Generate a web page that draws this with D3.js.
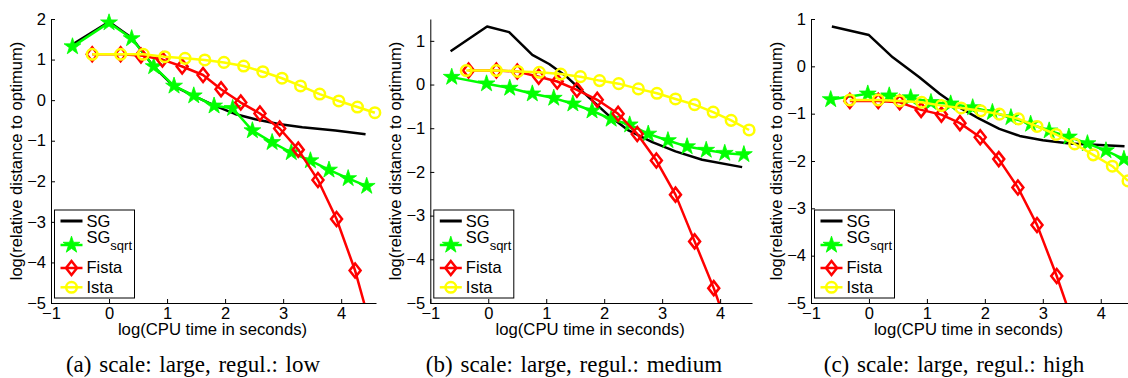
<!DOCTYPE html>
<html>
<head>
<meta charset="utf-8">
<script src="https://cdn.jsdelivr.net/npm/d3@7"></script>
<style>
body { margin: 0; background: #fff; }
text { font-family: "Liberation Sans", Arial, Helvetica, sans-serif; }
</style>
</head>
<body>
<div id="chart-area"></div>
<script>
// values: [log CPU time, log relative distance]
const sgA = [[-0.62,1.38],[0,1.93],[0.39,1.54],[0.76,0.84],[1.11,0.35],[1.45,0.11],[1.83,-0.14],[2.17,-0.34],[2.52,-0.47],[2.92,-0.59],[3.33,-0.67],[3.90,-0.75],[4.42,-0.84]]
const sqrtA = [[-0.63,1.32],[0,1.91],[0.39,1.52],[0.77,0.83],[1.12,0.35],[1.46,0.11],[1.81,-0.14],[2.13,-0.20],[2.47,-0.75],[2.81,-1.04],[3.14,-1.29],[3.47,-1.49],[3.79,-1.72],[4.12,-1.93],[4.44,-2.12]]
const fistaA = [[-0.29,1.13],[0.20,1.13],[0.55,1.10],[0.92,1.00],[1.26,0.83],[1.62,0.62],[1.93,0.27],[2.27,-0.06],[2.60,-0.33],[2.94,-0.70],[3.26,-1.22],[3.60,-1.97],[3.92,-2.93],[4.24,-4.20],[4.57,-5.90]]
const istaA = [[-0.29,1.13],[0.20,1.13],[0.59,1.13],[0.96,1.07],[1.31,1.03],[1.65,0.99],[1.98,0.93],[2.32,0.84],[2.65,0.70],[2.98,0.54],[3.30,0.35],[3.63,0.15],[3.96,-0.02],[4.28,-0.17],[4.58,-0.31]]

const sgB = [[-0.65,0.76],[-0.02,1.33],[0.36,1.20],[0.76,0.68],[1.05,0.47],[1.36,0.17],[1.73,-0.29],[2.08,-0.71],[2.42,-1.05],[2.83,-1.32],[3.23,-1.53],[3.69,-1.72],[4.38,-1.89]]
const sqrtB = [[-0.63,0.17],[-0.03,0.02],[0.37,-0.08],[0.76,-0.21],[1.13,-0.31],[1.46,-0.44],[1.79,-0.60],[2.12,-0.79],[2.44,-0.92],[2.76,-1.13],[3.10,-1.28],[3.43,-1.42],[3.76,-1.50],[4.08,-1.57],[4.41,-1.60]]
const fistaB = [[-0.34,0.32],[0.14,0.32],[0.50,0.30],[0.87,0.18],[1.19,0.07],[1.53,-0.12],[1.88,-0.35],[2.24,-0.67],[2.57,-1.13],[2.90,-1.74],[3.23,-2.52],[3.56,-3.59],[3.89,-4.66],[4.22,-5.90]]
const istaB = [[-0.38,0.32],[0.14,0.32],[0.51,0.30],[0.88,0.28],[1.25,0.24],[1.59,0.18],[1.92,0.09],[2.25,0.02],[2.59,-0.10],[2.91,-0.20],[3.23,-0.33],[3.56,-0.46],[3.88,-0.63],[4.19,-0.82],[4.50,-1.04]]

const sgC = [[-0.64,0.84],[0,0.66],[0.41,0.19],[0.87,-0.23],[1.22,-0.58],[1.56,-0.87],[1.91,-1.11],[2.25,-1.32],[2.60,-1.47],[3.00,-1.56],[3.46,-1.63],[3.98,-1.66],[4.41,-1.69]]
const sqrtC = [[-0.66,-0.70],[-0.02,-0.58],[0.35,-0.62],[0.72,-0.66],[1.07,-0.76],[1.41,-0.79],[1.79,-0.87],[2.13,-0.97],[2.45,-1.08],[2.79,-1.22],[3.11,-1.36],[3.45,-1.49],[3.77,-1.63],[4.09,-1.78],[4.40,-1.96]]
const fistaC = [[-0.33,-0.73],[0.16,-0.73],[0.53,-0.76],[0.90,-0.92],[1.25,-1.02],[1.57,-1.20],[1.92,-1.50],[2.24,-1.96],[2.57,-2.56],[2.90,-3.35],[3.24,-4.43],[3.57,-5.60]]
const istaC = [[-0.33,-0.71],[0.16,-0.71],[0.53,-0.73],[0.91,-0.76],[1.25,-0.83],[1.59,-0.88],[1.93,-0.94],[2.25,-1.01],[2.58,-1.11],[2.90,-1.27],[3.23,-1.44],[3.55,-1.64],[3.87,-1.87],[4.20,-2.11],[4.47,-2.42]]

const xTicks = [-1, 0, 1, 2, 3, 4]
const yTicksA = [-5, -4, -3, -2, -1, 0, 1, 2]
const yTicksBC = [-5, -4, -3, -2, -1, 0, 1]
const seriesNames = ["SG", "SG", "Fista", "Ista"]
const captions = ["(a) scale: large, regul.: low", "(b) scale: large, regul.: medium", "(c) scale: large, regul.: high"]

const panels = [
	{ left: 51, right: 376, clip: 382, xMax: 4.6, yDomain: [-5, 2], yTicks: yTicksA, capX: 193, data: [sgA, sqrtA, fistaA, istaA] },
	{ left: 430.3, right: 752, clip: 758, xMax: 4.55, yDomain: [-5, 1.5], yTicks: yTicksBC, capX: 574, data: [sgB, sqrtB, fistaB, istaB] },
	{ left: 811, right: 1128, clip: 1128, xMax: 4.47, yDomain: [-5, 1], yTicks: yTicksBC, capX: 954, data: [sgC, sqrtC, fistaC, istaC] }
]

const plotTop = 19, plotBottom = 303
const colors = ["#000000", "#00ff00", "#ff0000", "#ffff00"]
const lw = 2.5

const svg = d3.select("#chart-area")
	.append("svg")
		.attr("width", 1128)
		.attr("height", 378)

const starPath = d3.symbol(d3.symbolStar, 88)()
const diamondPath = "M0,-7L5.5,0L0,7L-5.5,0Z"

function drawMarker(sel, k) {
	if (k === 1) {
		sel.append("path").attr("d", starPath).attr("fill", colors[1])
			.attr("stroke", colors[1]).attr("stroke-width", 0.8).attr("stroke-linejoin", "round")
	} else if (k === 2) {
		sel.append("path").attr("d", diamondPath)
			.attr("fill", "none").attr("stroke", colors[2]).attr("stroke-width", lw)
	} else if (k === 3) {
		sel.append("circle").attr("r", 5.3)
			.attr("fill", "none").attr("stroke", colors[3]).attr("stroke-width", lw)
	}
}

panels.forEach((p, pi) => {
	const g = svg.append("g")

	const x = d3.scaleLinear().domain([-1, p.xMax]).range([p.left, p.right])
	const y = d3.scaleLinear().domain(p.yDomain).range([plotBottom, plotTop])

	g.append("clipPath").attr("id", "clip" + pi)
		.append("rect")
			.attr("x", p.left - 20).attr("y", 0)
			.attr("width", p.clip - p.left + 20).attr("height", plotBottom)

	// axes
	const yAxisCall = d3.axisLeft(y).tickValues(p.yTicks).tickFormat(d3.format("d"))
		.tickSize(-4).tickSizeOuter(0).tickPadding(5)
	const xAxisCall = d3.axisBottom(x).tickValues(xTicks).tickFormat(d3.format("d"))
		.tickSize(-4).tickSizeOuter(0).tickPadding(4)

	const yAxisGroup = g.append("g").attr("transform", `translate(${p.left},0)`).call(yAxisCall)
	const xAxisGroup = g.append("g").attr("transform", `translate(0,${plotBottom})`).call(xAxisCall)
	;[yAxisGroup, xAxisGroup].forEach(a => {
		a.attr("font-size", 16.5).attr("font-family", null)
		a.selectAll("text").attr("fill", "#000")
		a.selectAll("line,path").attr("stroke", "#000")
	})

	// labels
	g.append("text")
		.attr("x", (p.left + p.right) / 2 - 1)
		.attr("y", 335)
		.attr("font-size", "16.7px")
		.attr("text-anchor", "middle")
		.text("log(CPU time in seconds)")

	g.append("text")
		.attr("transform", `translate(${p.left - 29},161) rotate(-90)`)
		.attr("font-size", "16.5px")
		.attr("text-anchor", "middle")
		.text("log(relative distance to optimum)")

	g.append("text")
		.attr("x", p.capX)
		.attr("y", 372)
		.attr("font-size", "23px")
		.attr("text-anchor", "middle")
		.attr("word-spacing", "2px")
		.style("font-family", "'Liberation Serif', 'Times New Roman', serif")
		.text(captions[pi])

	// series
	const line = d3.line().x(d => x(d[0])).y(d => y(d[1]))
	const plot = g.append("g").attr("clip-path", `url(#clip${pi})`)

	p.data.forEach((series, k) => {
		plot.append("path")
			.datum(series)
			.attr("fill", "none")
			.attr("stroke", colors[k])
			.attr("stroke-width", lw)
			.attr("stroke-linejoin", "round")
			.attr("d", line)

		if (k > 0) {
			plot.selectAll(".m" + k)
				.data(series)
				.enter()
				.append("g")
					.attr("class", "m" + k)
					.attr("transform", d => `translate(${x(d[0])},${y(d[1])})`)
					.each(function () { drawMarker(d3.select(this), k) })
		}
	})

	// legend
	const legend = g.append("g").attr("transform", `translate(${p.left + 3.5},210)`)
	legend.append("rect")
		.attr("width", 80).attr("height", 88)
		.attr("fill", "#fff").attr("stroke", "#000").attr("stroke-width", 1)

	const rowY = [11, 35, 58, 77.3]
	const textY = [16.7, 33, 63.3, 83.3]
	seriesNames.forEach((name, k) => {
		const row = legend.append("g")
		row.append("line")
			.attr("x1", 6).attr("x2", 28)
			.attr("y1", rowY[k]).attr("y2", rowY[k])
			.attr("stroke", colors[k]).attr("stroke-width", k === 0 ? 3 : lw)
		drawMarker(row.append("g").attr("transform", `translate(17,${rowY[k]})`), k)

		const t = row.append("text")
			.attr("x", 32).attr("y", textY[k])
			.attr("font-size", "16.5px")
			.text(name)
		if (k === 1) {
			t.append("tspan")
				.attr("dy", 7)
				.attr("font-size", "13px")
				.text("sqrt")
		}
	})
})
</script>
</body>
</html>
